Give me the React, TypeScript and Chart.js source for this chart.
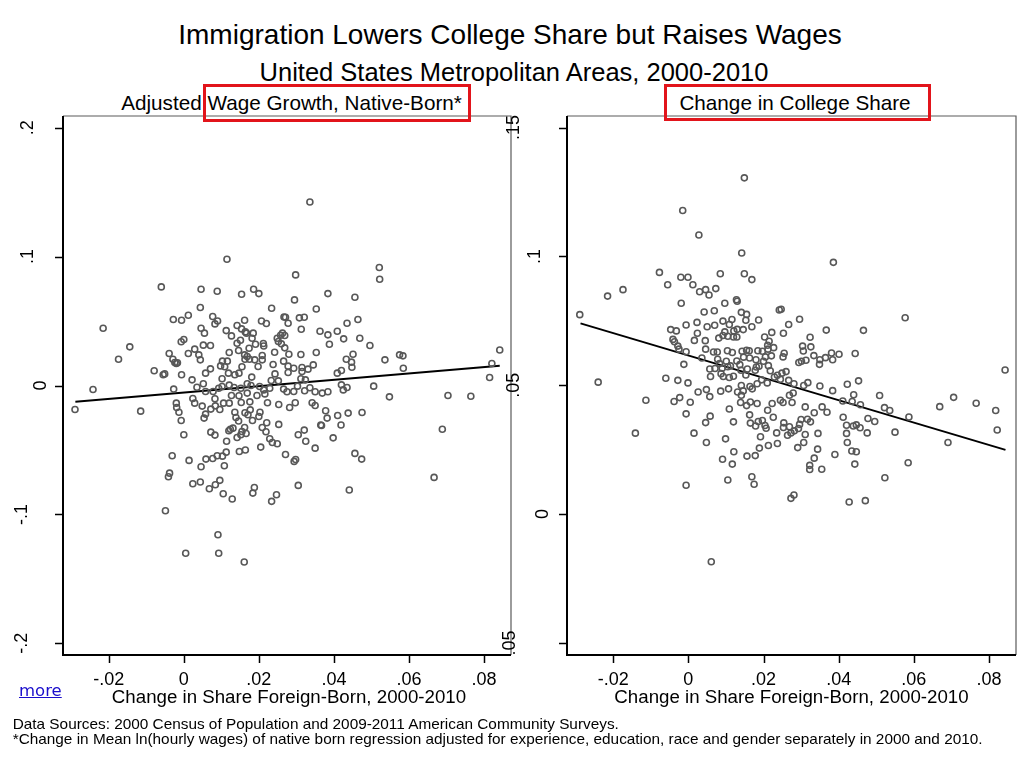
import React, { useEffect, useRef } from "react";
import { Chart, registerables } from "chart.js";

Chart.register(...registerables);

// ---------- data ----------
const titleText = "Immigration Lowers College Share but Raises Wages";
const subtitleText = "United States Metropolitan Areas, 2000-2010";
const wageTitle = "Adjusted Wage Growth, Native-Born*";
const collegeTitle = "Change in College Share";
const xAxisTitle = "Change in Share Foreign-Born, 2000-2010";
const noteLines = [
  "Data Sources: 2000 Census of Population and 2009-2011 American Community Surveys.",
  "*Change in Mean ln(hourly wages) of native born regression adjusted for experience, education, race and gender separately in 2000 and 2010.",
];
const linkText = "more";

const xTickValues = [-0.02, 0, 0.02, 0.04, 0.06, 0.08];
const xTickLabels = ["-.02", "0", ".02", ".04", ".06", ".08"];
const wageTickValues = [0.2, 0.1, 0, -0.1, -0.2];
const wageTickLabels = [".2", ".1", "0", "-.1", "-.2"];
const collegeTickValues = [0.15, 0.1, 0.05, 0, -0.05];
const collegeTickLabels = [".15", ".1", ".05", "0", ".05"];

// fitted lines (endpoints)
const wageFit = [[-0.0289, -0.0126], [0.0842, 0.0153]];
const collegeFit = [[-0.0287, 0.074], [0.0844, 0.0249]];

// [change in share foreign-born, adjusted wage growth]
const wagePoints = [
  [0.0336,0.1424],[0.0115,0.0979],[0.0521,0.0915],[0.0522,0.0824],[0.0298,0.0858],[-0.006,0.0765],[0.0046,0.0747],[0.0089,0.0731],[0.0154,0.0708],[0.0186,0.0747],[0.02,0.0713],[0.0384,0.0713],[0.0456,0.0685],[0.0295,0.0664],[0.0044,0.0605],[0.0234,0.0599],[0.0353,0.0594],[-0.0215,0.0444],[-0.0028,0.0512],[-0.0006,0.0506],[0.0012,0.0545],[0.0077,0.0535],[0.009,0.0501],[0.0083,0.0478],[0.0162,0.0506],[0.0142,0.0465],[0.0207,0.0501],[0.022,0.0481],[0.0267,0.0532],[0.0271,0.053],[0.0308,0.0525],[0.0321,0.053],[0.0278,0.0483],[0.0435,0.0483],[0.0464,0.0512],[0.0046,0.0444],[0.0055,0.0406],[0.0113,0.0426],[0.0127,0.0385],[0.0154,0.0439],[0.0167,0.0406],[0.0185,0.0406],[0.0182,0.0367],[0.0151,0.0351],[0.0142,0.0328],[0.0164,0.0416],[0.0313,0.0437],[0.0363,0.0421],[0.0384,0.0393],[0.0409,0.0421],[0.0426,0.0362],[0.0469,0.0367],[0.0388,0.032],[0.0496,0.031],[0.0263,0.0406],[0.0258,0.039],[0.0269,0.0388],[0.0249,0.0367],[0.0252,0.0341],[0.026,0.0323],[0.0269,0.0292],[0.0212,0.0326],[0.0213,0.0307],[0.0191,0.032],[0.0174,0.0289],[-0.0007,0.0339],[0,0.0357],[0.0029,0.0282],[0.0052,0.0313],[0.0071,0.031],[0.0012,0.0248],[0.004,0.0238],[0.0044,0.0199],[-0.0039,0.0248],[-0.0029,0.0204],[-0.0024,0.0178],[-0.002,0.0171],[-0.0017,0.0176],[0.0121,0.0256],[0.0146,0.0271],[0.0162,0.0238],[0.0169,0.0225],[0.0175,0.0204],[0.0163,0.0204],[0.0189,0.0199],[0.0209,0.0233],[0.0209,0.0199],[0.0242,0.0258],[0.028,0.0243],[0.0312,0.024],[0.0353,0.0256],[0.0238,0.0163],[0.0266,0.0189],[0.0278,0.015],[0.0293,0.0134],[0.0198,0.0147],[0.0155,0.0145],[0.0116,0.0189],[0.0103,0.0189],[0.0098,0.0152],[0.0109,0.0145],[0.0071,0.0129],[-0.0174,0.0204],[-0.0144,0.03],[0.0451,0.0243],[0.0433,0.0204],[0.0447,0.0181],[0.0448,0.0142],[0.0536,0.0199],[0.0575,0.0238],[0.0584,0.023],[0.0585,0.0134],[0.0842,0.0276],[0.0821,0.0171],[0.0345,0.016],[0.0315,0.014],[0.0331,0.0127],
  [-0.0079,0.0114],[-0.0055,0.0083],[-0.0051,0.009],[-0.0006,0.0083],[0.0022,0.0044],[0.0058,0.0096],[0.0102,0.0052],[0.0119,0.0096],[0.0136,0.0083],[0.0147,0.0096],[0.0181,0.0065],[0.0243,0.009],[0.0278,0.0101],[0.0315,0.0109],[0.0312,0.0052],[0.0324,0.0044],[0.0409,0.0096],[0.042,0.0116],[0.0815,0.0062],[-0.0242,-0.0031],[-0.029,-0.0186],[-0.0115,-0.0199],[-0.0027,-0.0028],[0.0035,-0.0013],[0.0052,0.0013],[0.0058,-0.0047],[0.0078,-0.0047],[0.0093,-0.0021],[0.0102,-0.0008],[0.0121,0.0003],[0.0134,-0.0016],[0.0152,-0.0021],[0.0169,0.0013],[0.0179,0],[0.0202,-0.0008],[0.0213,-0.0034],[0.0229,-0.0021],[0.0233,0.0039],[0.0252,0.0036],[0.0266,-0.0028],[0.0275,-0.0049],[0.0293,-0.0047],[0.0303,-0.0005],[0.0322,-0.0041],[0.0336,-0.0018],[0.035,-0.0049],[0.0369,-0.0059],[0.0384,-0.0049],[0.042,0.0005],[0.0425,-0.0034],[0.0435,-0.0016],[0.0506,-0.0005],[0.0548,-0.0088],[0.0704,-0.0078],[0.0765,-0.0083],[0.0024,-0.0101],[0.0029,-0.0137],[0.0049,-0.016],[-0.002,-0.0137],[-0.0019,-0.0171],[-0.0013,-0.0207],[-0.0007,-0.0271],[0,-0.0382],[0.0072,-0.0183],[0.0084,-0.0158],[0.0083,-0.0103],[0.0106,-0.0137],[0.0096,-0.0186],[0.0121,-0.0137],[0.0127,-0.0078],[0.0147,-0.008],[0.0153,-0.0132],[0.0169,-0.0059],[0.0176,-0.0127],[0.0177,-0.0189],[0.0195,-0.0078],[0.0223,-0.0134],[0.0216,-0.0065],[0.0253,-0.0147],[0.0282,-0.0171],[0.0297,-0.0134],[0.0342,-0.0134],[0.035,-0.0155],[0.0378,-0.0196],[0.0382,-0.0253],[0.041,-0.0233],[0.0438,-0.0214],[0.0475,-0.0209],[0.0058,-0.0222],[0.0054,-0.0253],[0.0136,-0.0207],[0.0139,-0.0248],[0.0146,-0.0276],[0.0163,-0.0212],[0.0171,-0.0227],[0.0183,-0.0271],[0.02,-0.024],[0.0203,-0.0207],[0.0221,-0.0289],[0.0209,-0.0326],[0.0219,-0.0359],[0.0229,-0.0413],[0.0236,-0.0442],[0.0249,-0.0452],[0.0253,-0.0302],[0.0124,-0.0339],[0.0131,-0.0331],[0.012,-0.0351],[0.0072,-0.0362],[0.0083,-0.0385],[0.0114,-0.0432],[0.0142,-0.0403],[0.0152,-0.0382],[0.0155,-0.0357],[0.0162,-0.0326],[0.0166,-0.0372],[0.0148,-0.0512],[0.0164,-0.0501],[0.0205,-0.0478],[0.0271,-0.0535],[0.0294,-0.0589],[0.0298,-0.0574],[0.0305,-0.0382],[0.0321,-0.0346],[0.0325,-0.0432],[0.035,-0.0486],[0.0365,-0.0307],[0.0367,-0.031],[0.0398,-0.0406],[0.0419,-0.0307],[0.0456,-0.0527],[0.0474,-0.0571],[0.0689,-0.0339],[0.0667,-0.0713],[-0.0031,-0.0545],[0.0014,-0.0581],[0.0046,-0.063],[0.0059,-0.0571],[0.0077,-0.0566],[0.0089,-0.0545],[0.0103,-0.0548],[0.0113,-0.0517],[0.0108,-0.0623],[-0.0038,-0.068],[-0.0041,-0.0708],[0.0024,-0.0762],[0.0044,-0.0749],[0.0068,-0.0801],[0.0084,-0.077],[0.0096,-0.0736],[0.0105,-0.084],[0.0129,-0.0881],[0.0188,-0.0791],[0.0184,-0.0835],[0.0234,-0.0899],[0.0247,-0.0848],[0.0305,-0.0775],[0.0441,-0.0811],[-0.0049,-0.0972],[0.0091,-0.1158],[0.0005,-0.1302],[0.0093,-0.1302],[0.0161,-0.137],
];

// [change in share foreign-born, change in college share]
const collegePoints = [
  [0.0149,0.1305],[-0.0015,0.1178],[0.0028,0.1083],[0.0142,0.1013],[0.0386,0.0977],[-0.0077,0.0938],[-0.002,0.0919],[-0.0001,0.0919],[0.0012,0.089],[-0.0055,0.089],[0.0085,0.0933],[0.0149,0.0933],[0.0169,0.091],[-0.0174,0.0871],[-0.0215,0.0846],[0.003,0.0863],[0.0046,0.0871],[0.0055,0.085],[0.0073,0.0875],[-0.0019,0.0818],[0.0128,0.0832],[0.013,0.0826],[0.0097,0.0818],[0.0042,0.0784],[0.0069,0.0789],[0.0141,0.0783],[0.0155,0.0775],[0.0153,0.0752],[0.0242,0.0792],[0.0247,0.0795],[0.0187,0.0753],[0.0296,0.0756],[0.0577,0.0762],[-0.0289,0.0774],[-0.0006,0.0734],[0.0023,0.0744],[0.005,0.0727],[0.007,0.0733],[0.0092,0.0749],[0.0116,0.0755],[0.0109,0.0736],[0.013,0.0717],[0.0146,0.0716],[0.0169,0.0727],[0.0267,0.0736],[-0.0047,0.0716],[-0.0032,0.0711],[0.0024,0.0702],[0.0016,0.0674],[0.0045,0.0673],[0.0081,0.0683],[0.0097,0.0707],[0.0121,0.0711],[0.0092,0.0693],[0.0105,0.069],[0.012,0.0687],[0.0129,0.0687],[0.0203,0.0687],[0.0222,0.0705],[0.0253,0.0702],[0.0367,0.0714],[0.0466,0.0713],[-0.0041,0.0678],[-0.0037,0.0669],[-0.0028,0.0652],[-0.0025,0.064],[-0.0006,0.063],[0.0046,0.064],[0.0067,0.0629],[0.0077,0.0629],[0.0104,0.0634],[0.0117,0.0627],[0.0143,0.0632],[0.0155,0.0636],[0.0162,0.0634],[0.0185,0.0634],[0.0197,0.0632],[0.0211,0.0655],[0.0215,0.0671],[0.0212,0.064],[0.0227,0.0646],[0.0205,0.061],[0.0221,0.0614],[0.0255,0.0624],[0.0252,0.061],[0.0304,0.0652],[0.0326,0.0649],[0.0306,0.0633],[0.0334,0.0615],[0.035,0.0599],[0.0365,0.0607],[0.0381,0.0625],[0.0384,0.0599],[0.0401,0.062],[0.0444,0.0623],[0.0324,0.0686],[-0.0012,0.0581],[0.0036,0.0606],[0.0078,0.0601],[0.0083,0.0584],[0.0101,0.0593],[0.0129,0.0594],[0.0147,0.0609],[0.0163,0.0606],[0.018,0.0599],[0.02,0.0593],[0.0213,0.0576],[0.0294,0.0588],[0.0301,0.0593],[0.0313,0.0597],[0.0349,0.0581],[0.0057,0.0563],[0.0071,0.0565],[0.009,0.0566],[0.0105,0.0572],[0.0112,0.0575],[0.0137,0.058],[0.0157,0.0563],[0.0181,0.0571],[0.0188,0.0574],[0.0059,0.0534],[0.0087,0.0545],[0.0093,0.0534],[0.0109,0.053],[0.012,0.0535],[0.014,0.0558],[0.0153,0.054],[0.0178,0.0558],[0.0218,0.0556],[0.0237,0.0539],[0.0249,0.0547],[0.026,0.0553],[0.0229,0.0532],[0.0245,0.0523],[0.0267,0.0519],[-0.024,0.0512],[-0.006,0.0527],[-0.0028,0.0519],[-0.0001,0.0509],[0.0141,0.0499],[0.0164,0.0495],[0.017,0.0486],[0.0183,0.0506],[0.0195,0.0521],[0.021,0.0509],[0.0281,0.0506],[0.0307,0.0499],[0.0318,0.051],[0.035,0.0497],[0.0423,0.0504],[0.0453,0.0517],[0.0048,0.0483],[0.0843,0.0559],[0.0107,0.0486],
  [-0.0113,0.0442],[-0.0141,0.0314],[-0.0038,0.0437],[-0.0023,0.0452],[0.0005,0.0434],[-0.0006,0.0389],[0.0026,0.0474],[0.0057,0.0456],[0.0086,0.0477],[0.0131,0.0474],[0.0141,0.0461],[0.0146,0.0478],[0.0139,0.0433],[0.0155,0.0421],[0.0165,0.0435],[0.0183,0.0429],[0.0109,0.0408],[0.0058,0.038],[0.0046,0.0355],[0.0015,0.0314],[0.0048,0.0278],[0.0099,0.0292],[0.012,0.0358],[0.0121,0.0242],[0.0091,0.0213],[0.0117,0.0194],[0.0156,0.0225],[0.0178,0.0227],[0.0163,0.0385],[0.0165,0.0353],[0.0179,0.0342],[0.0186,0.0359],[0.0197,0.0363],[0.0204,0.0344],[0.0207,0.0333],[0.0192,0.03],[0.0189,0.0256],[0.0213,0.0266],[0.0223,0.0429],[0.0211,0.0403],[0.0226,0.0376],[0.0245,0.0442],[0.0252,0.0433],[0.0269,0.0461],[0.0276,0.0433],[0.0279,0.047],[0.0269,0.0339],[0.0254,0.0354],[0.0253,0.0336],[0.0235,0.0315],[0.0237,0.0274],[0.0264,0.0306],[0.0273,0.0315],[0.0282,0.0323],[0.0296,0.0348],[0.03,0.0367],[0.0293,0.0332],[0.0317,0.0368],[0.0325,0.0358],[0.0311,0.0416],[0.0311,0.0309],[0.0307,0.0278],[0.0291,0.0258],[0.0335,0.0393],[0.0356,0.0416],[0.0369,0.0395],[0.0345,0.0313],[0.0344,0.0252],[0.0335,0.0217],[0.0323,0.0189],[0.0323,0.0173],[0.0355,0.0174],[0.039,0.0231],[0.0384,0.0479],[0.0411,0.0439],[0.0412,0.0376],[0.0421,0.0345],[0.0421,0.0313],[0.0423,0.0278],[0.044,0.0463],[0.0436,0.0437],[0.0458,0.0424],[0.0439,0.0342],[0.0447,0.0346],[0.0457,0.0335],[0.0476,0.0315],[0.0478,0.0371],[0.0496,0.0359],[0.0435,0.0245],[0.0447,0.0242],[0.0443,0.0194],[0.0509,0.046],[0.0522,0.0413],[0.0536,0.0402],[0.055,0.0318],[0.0587,0.0377],[0.0585,0.0199],[0.0523,0.0141],[0.0669,0.0417],[0.0706,0.0453],[0.0691,0.0278],[0.0766,0.043],[0.0818,0.0402],[0.0822,0.0326],[-0.0006,0.0112],[0.0105,0.0132],[0.0169,0.0145],[0.0175,0.0116],[0.0273,0.0061],[0.0281,0.0074],[0.0428,0.0047],[0.0471,0.0052],[0.0061,-0.0185],
];

// ---------- styles / layout ----------
const FONT = '"Liberation Sans", Arial, Helvetica, sans-serif';
const W = 1024;
const H = 768;
const PLOT_TOP = 116;
const PLOT_BOTTOM = 655;

type Panel = {
  points: number[][];
  fit: number[][];
  left: number;
  right: number;
  xMin: number;
  xMax: number;
  yMin: number;
  yMax: number;
  yTicks: number[];
  yLabels: string[];
  yLabelX: number[];
};

const panels: Panel[] = [
  {
    points: wagePoints,
    fit: wageFit,
    left: 63,
    right: 511,
    xMin: -0.0322,
    xMax: 0.0872,
    yMin: -0.2091,
    yMax: 0.2091,
    yTicks: wageTickValues,
    yLabels: wageTickLabels,
    yLabelX: [28, 28, 41.5, 22.5, 22.5],
  },
  {
    points: collegePoints,
    fit: collegeFit,
    left: 567,
    right: 1016,
    xMin: -0.0323,
    xMax: 0.0872,
    yMin: -0.0547,
    yMax: 0.1545,
    yTicks: collegeTickValues,
    yLabels: collegeTickLabels,
    yLabelX: [514.5, 535, 514.5, 543.5, 510],
  },
];

function makeAxesPlugin(p: Panel) {
  return {
    id: "stataAxes",
    afterDraw(chart: any) {
      const { ctx, chartArea: a, scales } = chart;
      const xs = scales.x;
      const ys = scales.y;
      ctx.save();
      // frame (top / right)
      ctx.strokeStyle = "#5a5a5a";
      ctx.lineWidth = 1.2;
      ctx.beginPath();
      ctx.moveTo(a.left, a.top);
      ctx.lineTo(a.right, a.top);
      ctx.lineTo(a.right, a.bottom);
      ctx.stroke();
      // axes
      ctx.strokeStyle = "#000";
      ctx.lineWidth = 2;
      ctx.beginPath();
      ctx.moveTo(a.left, a.top);
      ctx.lineTo(a.left, a.bottom);
      ctx.lineTo(a.right, a.bottom);
      ctx.stroke();
      // ticks
      ctx.lineWidth = 1.5;
      ctx.beginPath();
      xTickValues.forEach((v) => {
        const px = Math.round(xs.getPixelForValue(v)) + 0.5;
        ctx.moveTo(px, a.bottom);
        ctx.lineTo(px, a.bottom + 8);
      });
      p.yTicks.forEach((v) => {
        const py = Math.round(ys.getPixelForValue(v)) + 0.5;
        ctx.moveTo(a.left - 8, py);
        ctx.lineTo(a.left, py);
      });
      ctx.stroke();
      // x tick labels
      ctx.fillStyle = "#000";
      ctx.font = `18px ${FONT}`;
      ctx.textAlign = "center";
      ctx.textBaseline = "alphabetic";
      xTickValues.forEach((v, i) => {
        ctx.fillText(xTickLabels[i], xs.getPixelForValue(v), 684.5);
      });
      // y tick labels (rotated)
      p.yTicks.forEach((v, i) => {
        const py = ys.getPixelForValue(v);
        ctx.save();
        ctx.translate(p.yLabelX[i], py);
        ctx.rotate(-Math.PI / 2);
        ctx.textAlign = "center";
        ctx.textBaseline = "middle";
        ctx.fillText(p.yLabels[i], 0, 0);
        ctx.restore();
      });
      ctx.restore();
    },
  };
}

function PanelChart({ panel }: { panel: Panel }) {
  const ref = useRef<HTMLCanvasElement | null>(null);
  useEffect(() => {
    if (!ref.current) return;
    const chart = new Chart(ref.current, {
      type: "scatter",
      data: {
        datasets: [
          {
            data: panel.points.map(([x, y]) => ({ x, y })),
            pointStyle: "circle",
            pointRadius: 3,
            pointBorderWidth: 1.6,
            borderColor: "#585858",
            backgroundColor: "rgba(0,0,0,0)",
            showLine: false,
          } as any,
          {
            type: "line",
            data: panel.fit.map(([x, y]) => ({ x, y })),
            borderColor: "#000",
            borderWidth: 2,
            pointRadius: 0,
            fill: false,
            showLine: true,
          } as any,
        ],
      },
      options: {
        responsive: false,
        animation: false,
        devicePixelRatio: 1,
        events: [],
        layout: {
          padding: {
            left: panel.left,
            right: W - panel.right,
            top: PLOT_TOP,
            bottom: H - PLOT_BOTTOM,
          },
        },
        scales: {
          x: { type: "linear", min: panel.xMin, max: panel.xMax, display: false },
          y: { type: "linear", min: panel.yMin, max: panel.yMax, display: false },
        },
        plugins: {
          legend: { display: false },
          tooltip: { enabled: false },
          title: { display: false },
        },
      },
      plugins: [makeAxesPlugin(panel)],
    });
    return () => chart.destroy();
  }, [panel]);
  return (
    <canvas
      ref={ref}
      width={W}
      height={H}
      style={{ position: "absolute", left: 0, top: 0, width: W, height: H }}
    />
  );
}

const abs = (extra: React.CSSProperties): React.CSSProperties => ({
  position: "absolute",
  whiteSpace: "nowrap",
  lineHeight: 1,
  color: "#000",
  ...extra,
});

export default function App() {
  return (
    <div
      style={{
        position: "fixed",
        left: 0,
        top: 0,
        width: W,
        height: H,
        background: "#fff",
        fontFamily: FONT,
        overflow: "hidden",
      }}
    >
      <div style={abs({ left: 510, top: 21, fontSize: 28, transform: "translateX(-50%)" })}>{titleText}</div>
      <div style={abs({ left: 514, top: 59.5, fontSize: 25.5, transform: "translateX(-50%)" })}>{subtitleText}</div>
      <div style={abs({ left: 291.5, top: 92.5, fontSize: 20.7, transform: "translateX(-50%)" })}>{wageTitle}</div>
      <div style={abs({ left: 795, top: 92.5, fontSize: 20.7, transform: "translateX(-50%)" })}>{collegeTitle}</div>
      {panels.map((p, i) => (
        <PanelChart key={i} panel={p} />
      ))}
      <div style={abs({ left: 289, top: 687.5, fontSize: 18.7, transform: "translateX(-50%)" })}>{xAxisTitle}</div>
      <div style={abs({ left: 791.5, top: 687.5, fontSize: 18.7, transform: "translateX(-50%)" })}>{xAxisTitle}</div>
      <a
        href="#"
        style={abs({
          left: 19,
          top: 683,
          fontSize: 16.5,
          fontFamily: '"DejaVu Sans", sans-serif',
          color: "#1a0dcc",
          textDecoration: "underline",
        })}
      >
        {linkText}
      </a>
      <div style={abs({ left: 12.7, top: 715.5, fontSize: 15.35 })}>{noteLines[0]}</div>
      <div style={abs({ left: 12.7, top: 730.5, fontSize: 15.35 })}>{noteLines[1]}</div>
      <div
        style={{
          position: "absolute",
          left: 203,
          top: 84,
          width: 268,
          height: 38,
          border: "3px solid #e2141b",
          boxSizing: "border-box",
        }}
      />
      <div
        style={{
          position: "absolute",
          left: 664,
          top: 84,
          width: 267,
          height: 37,
          border: "3px solid #e2141b",
          boxSizing: "border-box",
        }}
      />
    </div>
  );
}
